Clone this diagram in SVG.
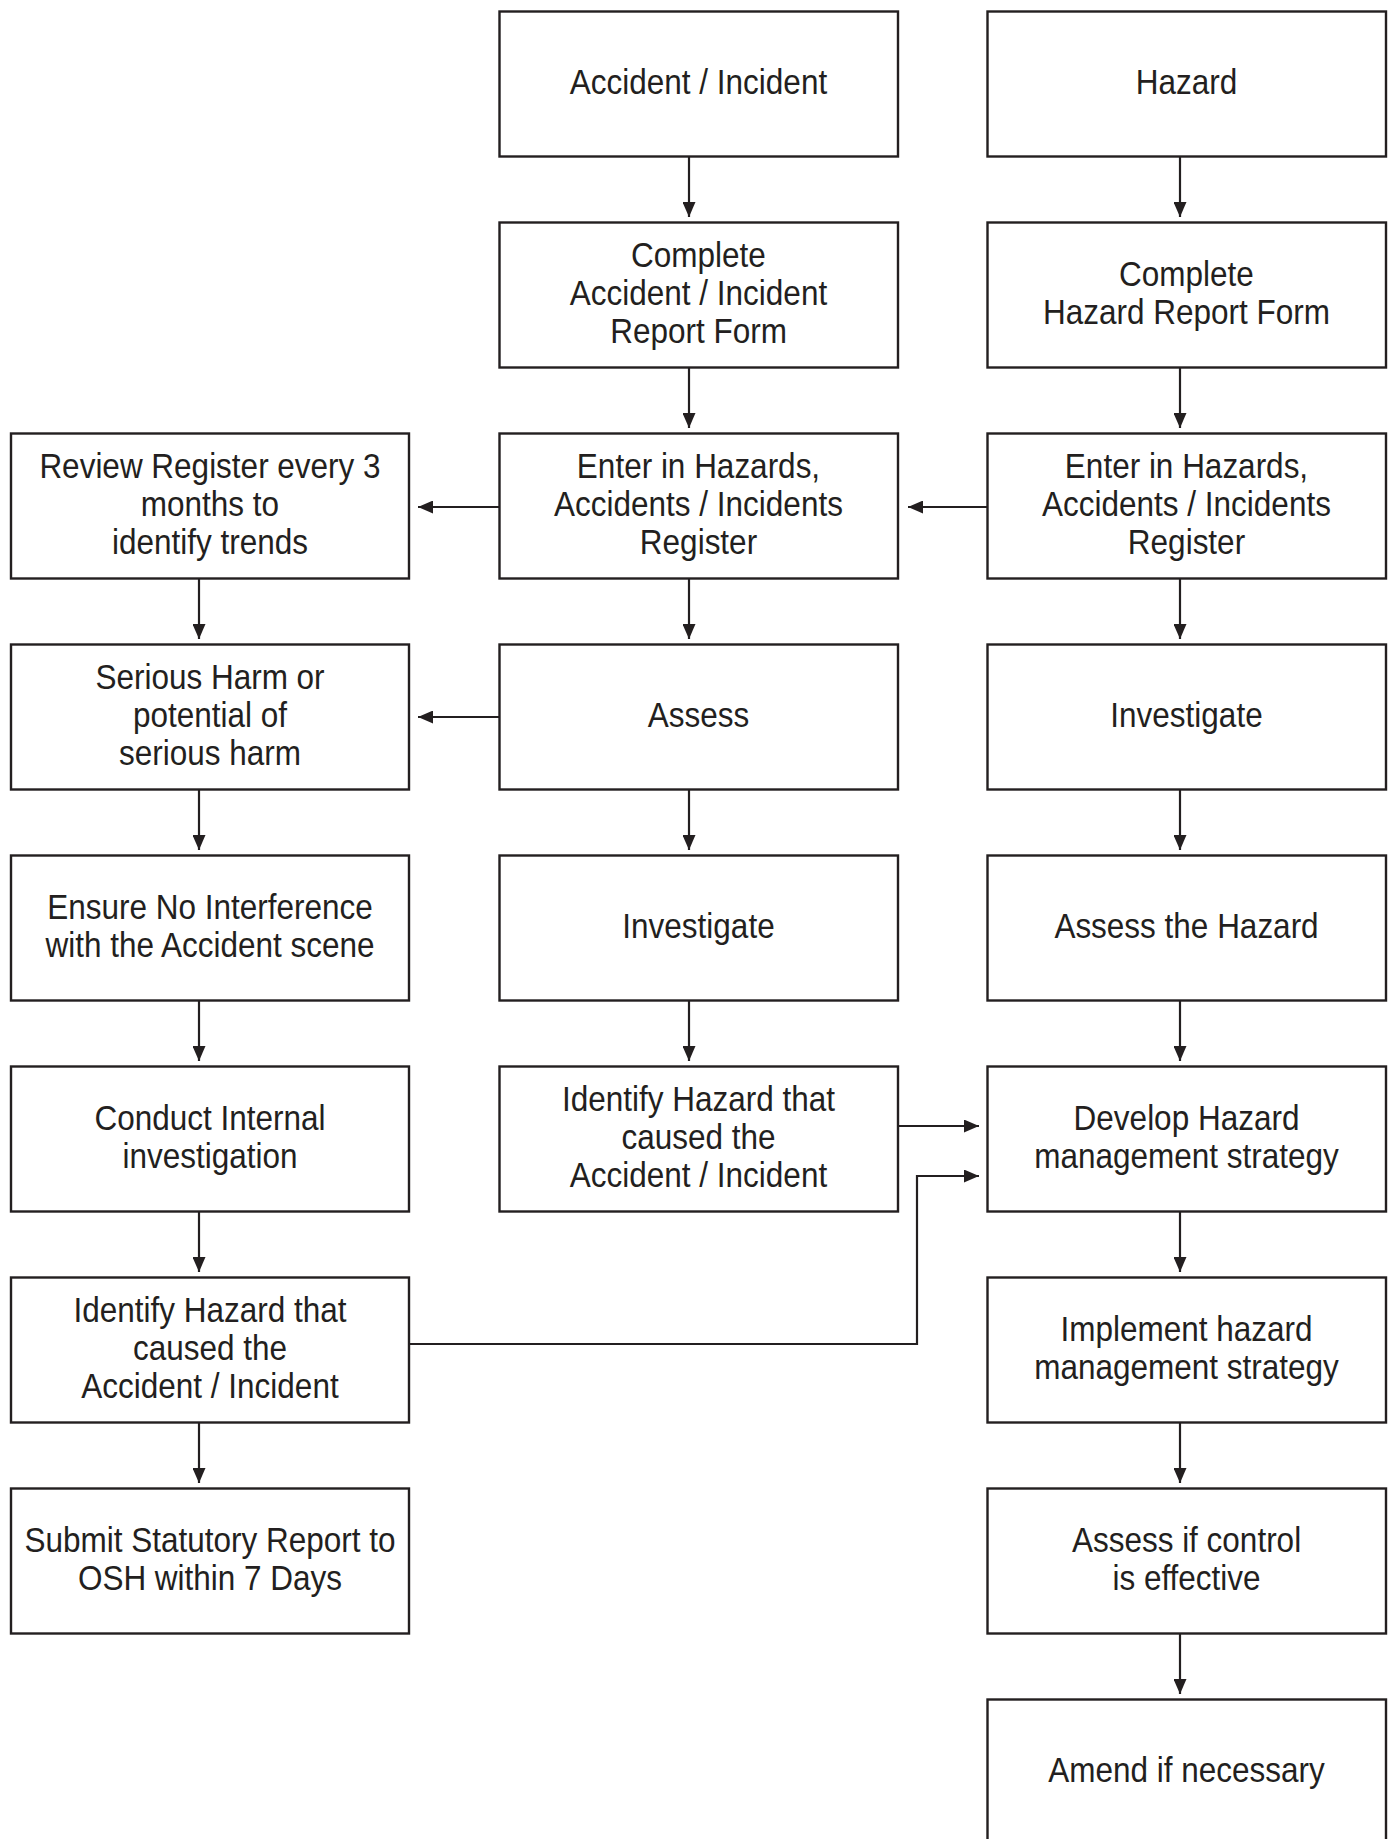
<svg xmlns="http://www.w3.org/2000/svg" width="1394" height="1839" viewBox="0 0 1394 1839">
<style>
.box{fill:#ffffff;stroke:#231f20;stroke-width:2.4}
.lbl{font-family:"Liberation Sans",Arial,sans-serif;font-size:35px;fill:#231f20;text-anchor:middle}
.con{fill:none;stroke:#231f20;stroke-width:2.2;marker-end:url(#arr)}
</style>
<defs>
<marker id="arr" markerUnits="userSpaceOnUse" markerWidth="15" markerHeight="13" viewBox="0 0 15 13" refX="15" refY="6.5" orient="auto">
<path d="M0,0 L15,6.5 L0,13 z" fill="#231f20"/>
</marker>
</defs>
<rect width="1394" height="1839" fill="#ffffff"/>

<g id="connectors">
<path class="con" d="M689,157 V217"/>
<path class="con" d="M689,368 V428"/>
<path class="con" d="M689,579 V639"/>
<path class="con" d="M689,790 V850"/>
<path class="con" d="M689,1001 V1061"/>
<path class="con" d="M1180,157 V217"/>
<path class="con" d="M1180,368 V428"/>
<path class="con" d="M1180,579 V639"/>
<path class="con" d="M1180,790 V850"/>
<path class="con" d="M1180,1001 V1061"/>
<path class="con" d="M1180,1212 V1272"/>
<path class="con" d="M1180,1420 V1483"/>
<path class="con" d="M1180,1634 V1694"/>
<path class="con" d="M199,579 V639"/>
<path class="con" d="M199,790 V850"/>
<path class="con" d="M199,1001 V1061"/>
<path class="con" d="M199,1212 V1272"/>
<path class="con" d="M199,1423 V1483"/>
<path class="con" d="M499,507 H418"/>
<path class="con" d="M987,507 H908"/>
<path class="con" d="M499,717 H418"/>
<path class="con" d="M898,1126 H979"/>
<path class="con" d="M409,1344 H917 V1176 H979"/>
</g>

<g id="m1"><rect class="box" x="499.5" y="11.5" width="398.5" height="145"/>
<text class="lbl" transform="translate(698.5 0) scale(0.9 1)" x="0" y="94">Accident / Incident</text></g>
<g id="m2"><rect class="box" x="499.5" y="222.5" width="398.5" height="145"/>
<text class="lbl" transform="translate(698.5 0) scale(0.9 1)"><tspan x="0" y="267">Complete</tspan><tspan x="0" y="305">Accident / Incident</tspan><tspan x="0" y="343">Report Form</tspan></text></g>
<g id="m3"><rect class="box" x="499.5" y="433.5" width="398.5" height="145"/>
<text class="lbl" transform="translate(698.5 0) scale(0.9 1)"><tspan x="0" y="478">Enter in Hazards,</tspan><tspan x="0" y="516">Accidents / Incidents</tspan><tspan x="0" y="554">Register</tspan></text></g>
<g id="m4"><rect class="box" x="499.5" y="644.5" width="398.5" height="145"/>
<text class="lbl" transform="translate(698.5 0) scale(0.9 1)" x="0" y="727">Assess</text></g>
<g id="m5"><rect class="box" x="499.5" y="855.5" width="398.5" height="145"/>
<text class="lbl" transform="translate(698.5 0) scale(0.9 1)" x="0" y="938">Investigate</text></g>
<g id="m6"><rect class="box" x="499.5" y="1066.5" width="398.5" height="145"/>
<text class="lbl" transform="translate(698.5 0) scale(0.9 1)"><tspan x="0" y="1111">Identify Hazard that</tspan><tspan x="0" y="1149">caused the</tspan><tspan x="0" y="1187">Accident / Incident</tspan></text></g>

<g id="r1"><rect class="box" x="987.5" y="11.5" width="398.5" height="145"/>
<text class="lbl" transform="translate(1186.5 0) scale(0.9 1)" x="0" y="94">Hazard</text></g>
<g id="r2"><rect class="box" x="987.5" y="222.5" width="398.5" height="145"/>
<text class="lbl" transform="translate(1186.5 0) scale(0.9 1)"><tspan x="0" y="286">Complete</tspan><tspan x="0" y="324">Hazard Report Form</tspan></text></g>
<g id="r3"><rect class="box" x="987.5" y="433.5" width="398.5" height="145"/>
<text class="lbl" transform="translate(1186.5 0) scale(0.9 1)"><tspan x="0" y="478">Enter in Hazards,</tspan><tspan x="0" y="516">Accidents / Incidents</tspan><tspan x="0" y="554">Register</tspan></text></g>
<g id="r4"><rect class="box" x="987.5" y="644.5" width="398.5" height="145"/>
<text class="lbl" transform="translate(1186.5 0) scale(0.9 1)" x="0" y="727">Investigate</text></g>
<g id="r5"><rect class="box" x="987.5" y="855.5" width="398.5" height="145"/>
<text class="lbl" transform="translate(1186.5 0) scale(0.9 1)" x="0" y="938">Assess the Hazard</text></g>
<g id="r6"><rect class="box" x="987.5" y="1066.5" width="398.5" height="145"/>
<text class="lbl" transform="translate(1186.5 0) scale(0.9 1)"><tspan x="0" y="1130">Develop Hazard</tspan><tspan x="0" y="1168">management strategy</tspan></text></g>
<g id="r7"><rect class="box" x="987.5" y="1277.5" width="398.5" height="145"/>
<text class="lbl" transform="translate(1186.5 0) scale(0.9 1)"><tspan x="0" y="1341">Implement hazard</tspan><tspan x="0" y="1379">management strategy</tspan></text></g>
<g id="r8"><rect class="box" x="987.5" y="1488.5" width="398.5" height="145"/>
<text class="lbl" transform="translate(1186.5 0) scale(0.9 1)"><tspan x="0" y="1552">Assess if control</tspan><tspan x="0" y="1590">is effective</tspan></text></g>
<g id="r9"><rect class="box" x="987.5" y="1699.5" width="398.5" height="160"/>
<text class="lbl" transform="translate(1186.5 0) scale(0.9 1)" x="0" y="1782">Amend if necessary</text></g>

<g id="l3"><rect class="box" x="11" y="433.5" width="398" height="145"/>
<text class="lbl" transform="translate(210 0) scale(0.9 1)"><tspan x="0" y="478">Review Register every 3</tspan><tspan x="0" y="516">months to</tspan><tspan x="0" y="554">identify trends</tspan></text></g>
<g id="l4"><rect class="box" x="11" y="644.5" width="398" height="145"/>
<text class="lbl" transform="translate(210 0) scale(0.9 1)"><tspan x="0" y="689">Serious Harm or</tspan><tspan x="0" y="727">potential of</tspan><tspan x="0" y="765">serious harm</tspan></text></g>
<g id="l5"><rect class="box" x="11" y="855.5" width="398" height="145"/>
<text class="lbl" transform="translate(210 0) scale(0.9 1)"><tspan x="0" y="919">Ensure No Interference</tspan><tspan x="0" y="957">with the Accident scene</tspan></text></g>
<g id="l6"><rect class="box" x="11" y="1066.5" width="398" height="145"/>
<text class="lbl" transform="translate(210 0) scale(0.9 1)"><tspan x="0" y="1130">Conduct Internal</tspan><tspan x="0" y="1168">investigation</tspan></text></g>
<g id="l7"><rect class="box" x="11" y="1277.5" width="398" height="145"/>
<text class="lbl" transform="translate(210 0) scale(0.9 1)"><tspan x="0" y="1322">Identify Hazard that</tspan><tspan x="0" y="1360">caused the</tspan><tspan x="0" y="1398">Accident / Incident</tspan></text></g>
<g id="l8"><rect class="box" x="11" y="1488.5" width="398" height="145"/>
<text class="lbl" transform="translate(210 0) scale(0.9 1)"><tspan x="0" y="1552">Submit Statutory Report to</tspan><tspan x="0" y="1590">OSH within 7 Days</tspan></text></g>
</svg>
